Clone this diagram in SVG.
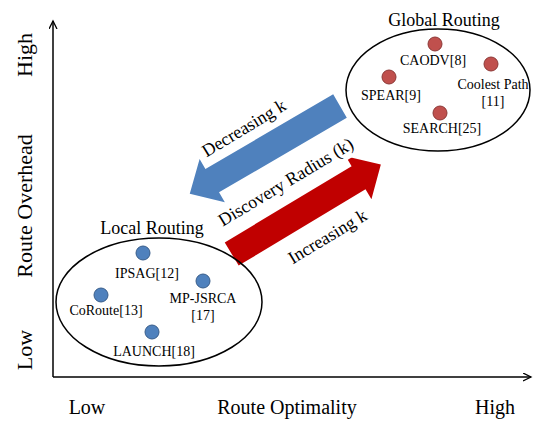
<svg xmlns="http://www.w3.org/2000/svg" width="538" height="422" viewBox="0 0 538 422">
  <style>
    text { font-family: "Liberation Serif", "Times New Roman", serif; fill: #000; }
    .lbl { font-size: 14px; text-anchor: middle; }
    .title { font-size: 18px; text-anchor: middle; }
    .axis { font-size: 20px; text-anchor: middle; }
    .yaxis { font-size: 22px; text-anchor: middle; }
    .rot { font-size: 18px; text-anchor: middle; }
    .ell { fill: none; stroke: #000; stroke-width: 1.5; }
    .bdot { fill: #4F81BD; stroke: #385D8A; stroke-width: 1; }
    .rdot { fill: #C0504D; stroke: #8C3836; stroke-width: 1; }
    .ax { stroke: #000; stroke-width: 1.5; fill: none; }
  </style>
  <defs>
    <marker id="ah" markerWidth="10" markerHeight="10" refX="8" refY="4" orient="auto" markerUnits="userSpaceOnUse">
      <path d="M0,0 L8,4 L0,8" fill="none" stroke="#000" stroke-width="1.3"/>
    </marker>
    <path id="bigArrow" d="M0,-13.5 L148,-13.5 L148,-25 L174,0 L148,25 L148,13.5 L0,13.5 Z"/>
  </defs>
  <rect width="538" height="422" fill="#fff"/>

  <g id="axes">
    <line class="ax" x1="53" y1="377" x2="53" y2="21" marker-end="url(#ah)"/>
    <line class="ax" x1="53" y1="377" x2="531" y2="377" marker-end="url(#ah)"/>
    <text class="yaxis" transform="translate(32,55) rotate(-90)">High</text>
    <text class="yaxis" transform="translate(32,206) rotate(-90)">Route Overhead</text>
    <text class="yaxis" transform="translate(32,350) rotate(-90)">Low</text>
    <text class="axis" x="87" y="414">Low</text>
    <text class="axis" x="287" y="414">Route Optimality</text>
    <text class="axis" x="495" y="414">High</text>
  </g>

  <g id="connectors">
    <use href="#bigArrow" fill="#4F81BD" transform="translate(340,106) rotate(149.7)"/>
    <use href="#bigArrow" fill="#C00000" transform="translate(231.7,254) rotate(-31)"/>
    <g transform="translate(244,128) rotate(-31)">
      <text class="rot" x="0" y="6">Decreasing k</text>
    </g>
    <g transform="translate(285.7,182) rotate(-31)">
      <rect x="-86" y="-13" width="172" height="26" fill="#fff"/>
      <text class="rot" x="0" y="6">Discovery Radius (k)</text>
    </g>
    <g transform="translate(327.5,236.5) rotate(-31)">
      <text class="rot" x="0" y="6">Increasing k</text>
    </g>
  </g>

  <g id="local-routing">
    <ellipse class="ell" cx="159" cy="302" rx="103" ry="64"/>
    <text class="title" x="152" y="234">Local Routing</text>
  </g>
  <g id="ipsag">
    <circle class="bdot" cx="143" cy="253" r="7"/>
    <text class="lbl" x="147" y="278">IPSAG[12]</text>
  </g>
  <g id="mp-jsrca">
    <circle class="bdot" cx="203" cy="281" r="7"/>
    <text class="lbl" x="203" y="303">MP-JSRCA</text>
    <text class="lbl" x="203" y="320">[17]</text>
  </g>
  <g id="coroute">
    <circle class="bdot" cx="101" cy="295" r="7"/>
    <text class="lbl" x="106" y="315">CoRoute[13]</text>
  </g>
  <g id="launch">
    <circle class="bdot" cx="152" cy="332" r="7"/>
    <text class="lbl" x="154" y="356">LAUNCH[18]</text>
  </g>

  <g id="global-routing">
    <ellipse class="ell" cx="438" cy="90" rx="92" ry="61"/>
    <text class="title" x="444" y="26">Global Routing</text>
  </g>
  <g id="caodv">
    <circle class="rdot" cx="435" cy="44" r="7"/>
    <text class="lbl" x="433" y="65">CAODV[8]</text>
  </g>
  <g id="coolest-path">
    <circle class="rdot" cx="491" cy="64" r="7"/>
    <text class="lbl" x="493" y="89">Coolest Path</text>
    <text class="lbl" x="493" y="106">[11]</text>
  </g>
  <g id="spear">
    <circle class="rdot" cx="389" cy="77" r="7"/>
    <text class="lbl" x="391" y="100">SPEAR[9]</text>
  </g>
  <g id="search">
    <circle class="rdot" cx="440" cy="113" r="7"/>
    <text class="lbl" x="442" y="133">SEARCH[25]</text>
  </g>
</svg>
